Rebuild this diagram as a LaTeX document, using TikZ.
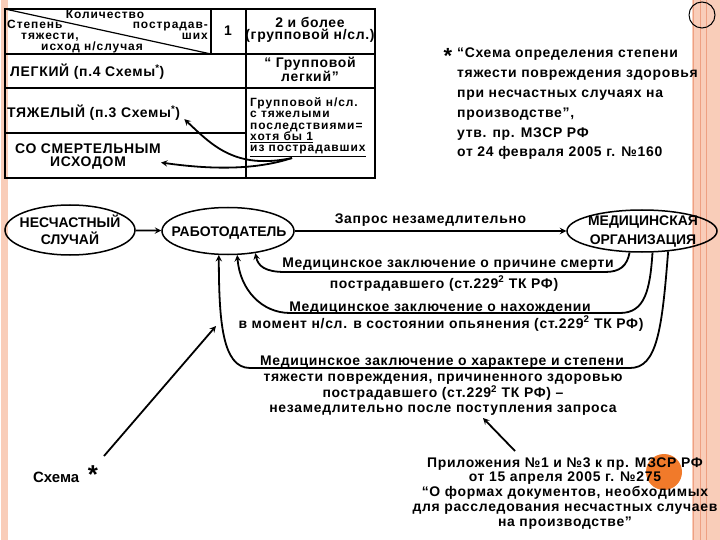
\documentclass[tikz,border=0pt]{standalone}
\usepackage{fontspec}
\setmainfont{Liberation Sans}
\newfontfamily\widefont[LetterSpace=5]{Liberation Sans}
\newfontfamily\hdrfont[LetterSpace=8]{Liberation Sans}
\usetikzlibrary{shapes.geometric}

\definecolor{salmon}{RGB}{249,205,185}
\definecolor{salmondark}{RGB}{238,160,130}
\definecolor{dotorange}{RGB}{241,122,42}

\tikzstyle{oval} = [draw, ellipse, line width=1.5bp, inner sep=0pt]
\tikzstyle{arrow} = [line width=1.8bp, ->, >=stealth]
\tikzstyle{grid} = [line width=1.2bp]
\tikzstyle{txt} = [font=\widefont\bfseries\fontsize{14}{16}\selectfont, inner sep=0pt, align=center, anchor=base]
\tikzstyle{caps} = [font=\bfseries\fontsize{14}{18}\selectfont, inner sep=0pt, align=center, anchor=base]
\tikzstyle{hdr} = [font=\hdrfont\bfseries\fontsize{12}{12}\selectfont, inner sep=0pt, anchor=base]
\tikzstyle{cell} = [font=\hdrfont\bfseries\fontsize{12}{11.5}\selectfont, inner sep=0pt, align=left, anchor=base west]

\begin{document}
\begin{tikzpicture}[x=1bp,y=-1bp]
	\useasboundingbox (0,0) rectangle (720,540);
	\fill[white] (0,0) rectangle (720,540);
	% slide stripes
	\fill[salmon] (1,0) rectangle (8,540);
	\fill[salmon] (692,0) rectangle (720,540);
	\foreach \x in {693.5,700,706}
		\draw[salmondark, line width=0.8bp] (\x,0) -- (\x,540);
	\draw[line width=1bp] (702,15) circle (13);
	\fill[dotorange] (664,472) circle (18);

	% table
	\draw[grid] (5,9) rectangle (375,178);
	\draw[grid] (5,9) -- (211,54);
	\draw[grid] (211,9) -- (211,54);
	\draw[grid] (246,9) -- (246,178);
	\foreach \y in {54,88}
		\draw[grid] (5,\y) -- (375,\y);
	\draw[grid] (5,133) -- (246,133);

	\node[hdr] (qty) at (105,19) {Количество};
	\node[hdr, anchor=base west] (deg) at (7,29) {Степень};
	\node[hdr, anchor=base east] (vict) at (208,29) {пострадав-};
	\node[hdr] (sev) at (50,40) {тяжести,};
	\node[hdr, anchor=base east] (vict2) at (208,40) {ших};
	\node[hdr] (outc) at (92,51) {исход н/случая};
	\node[txt] (one) at (228,36) {1};
	\node[txt, font=\widefont\bfseries\fontsize{14}{13}\selectfont] (grp) at (310,40) {2 и более\\(групповой н/сл.)};

	\node[txt, anchor=base west] (light) at (10,77) {ЛЕГКИЙ (п.4 Схемы\textsuperscript{*})};
	\node[txt, font=\widefont\bfseries\fontsize{14}{13}\selectfont] (glight) at (310,82) {“ Групповой\\легкий”};
	\node[txt, anchor=base west] (heavy) at (7,118) {ТЯЖЕЛЫЙ (п.3 Схемы\textsuperscript{*})};
	\node[cell] (gheavy) at (250,152) {Групповой н/сл.\\с тяжелыми\\последствиями=\\\underline{хотя бы 1}\\\underline{из пострадавших}};
	\node[txt, font=\widefont\bfseries\fontsize{14}{14}\selectfont] (death) at (88,167) {СО СМЕРТЕЛЬНЫМ\\ИСХОДОМ};

	\coordinate (src) at (292,158);
	\draw[arrow] (src) .. controls (235,170) and (212,145) .. ([xshift=4bp,yshift=-6bp]heavy.east);
	\draw[arrow] (src) .. controls (250,172) and (200,168) .. ([yshift=-6bp]death.east);

	% footnote
	\node[font=\bfseries\fontsize{22}{22}\selectfont, inner sep=0pt] (fstar) at (448,56) {*};
	\node[txt, anchor=base west, align=left, font=\widefont\bfseries\fontsize{14}{20}\selectfont] (note) at (457,157)
		{“Схема определения степени\\тяжести повреждения здоровья\\при несчастных случаях на\\производстве”,\\утв. пр. МЗСР РФ\\от 24 февраля 2005 г. №160};

	% flow
	\node[oval, minimum width=130bp, minimum height=50bp] (acc) at (70,230) {};
	\node[caps] at (70,245) {НЕСЧАСТНЫЙ\\СЛУЧАЙ};
	\node[oval, minimum width=132bp, minimum height=47bp] (rab) at (228,231) {};
	\node[caps] at (229,237) {РАБОТОДАТЕЛЬ};
	\node[oval, minimum width=150bp, minimum height=42bp] (med) at (642,231) {};
	\node[caps, font=\bfseries\fontsize{14}{20}\selectfont] at (643,245) {МЕДИЦИНСКАЯ\\ОРГАНИЗАЦИЯ};

	\draw[arrow] (acc) -- (rab);
	\draw[arrow] (rab) -- node[txt, anchor=south, yshift=4bp] (req) {Запрос незамедлительно} (med);

	\draw[arrow] (med.240) .. controls (627,266) and (620,272) .. (605,272) -- (285,272)
		.. controls (265,272) and (258,266) .. (rab.321);
	\draw[arrow] (med.296) .. controls (650,290) and (645,313) .. (620,313) -- (290,313)
		.. controls (262,313) and (240,290) .. (rab.291);
	\draw[arrow] (med.322) .. controls (662,330) and (657,368) .. (630,368) -- (250,368)
		.. controls (222,368) and (219,320) .. (rab.249);

	\node[txt] (m1) at (448,268) {Медицинское заключение о причине смерти};
	\node[txt] (m1b) at (444,288) {пострадавшего (ст.229\textsuperscript{2} ТК РФ)};
	\node[txt] (m2) at (440,311) {Медицинское заключение о нахождении};
	\node[txt] (m2b) at (441,328) {в момент н/сл. в состоянии опьянения (ст.229\textsuperscript{2} ТК РФ)};
	\node[txt] (m3) at (442,365) {Медицинское заключение о характере и степени};
	\node[txt, font=\widefont\bfseries\fontsize{14}{14.5}\selectfont] (m3b) at (443,412)
		{тяжести повреждения, причиненного здоровью\\пострадавшего (ст.229\textsuperscript{2} ТК РФ) –\\незамедлительно после поступления запроса};

	% bottom
	\node[txt, anchor=base west, font=\bfseries\fontsize{15}{16}\selectfont] (schema) at (33,482) {Схема};
	\node[font=\bfseries\fontsize{26}{26}\selectfont, inner sep=0pt] (sstar) at (93,475) {*};
	\coordinate (t1) at (216,326);
	\draw[arrow] (104,456) -- (t1);
	\node[txt, font=\widefont\bfseries\fontsize{14}{14.75}\selectfont] (annex) at (565,526)
		{Приложения №1 и №3 к пр. МЗСР РФ\\от 15 апреля 2005 г. №275\\“О формах документов, необходимых\\для расследования несчастных случаев\\на производстве”};
	\coordinate (t2) at (483,418);
	\draw[arrow] (515,451) -- (t2);
\end{tikzpicture}
\end{document}
